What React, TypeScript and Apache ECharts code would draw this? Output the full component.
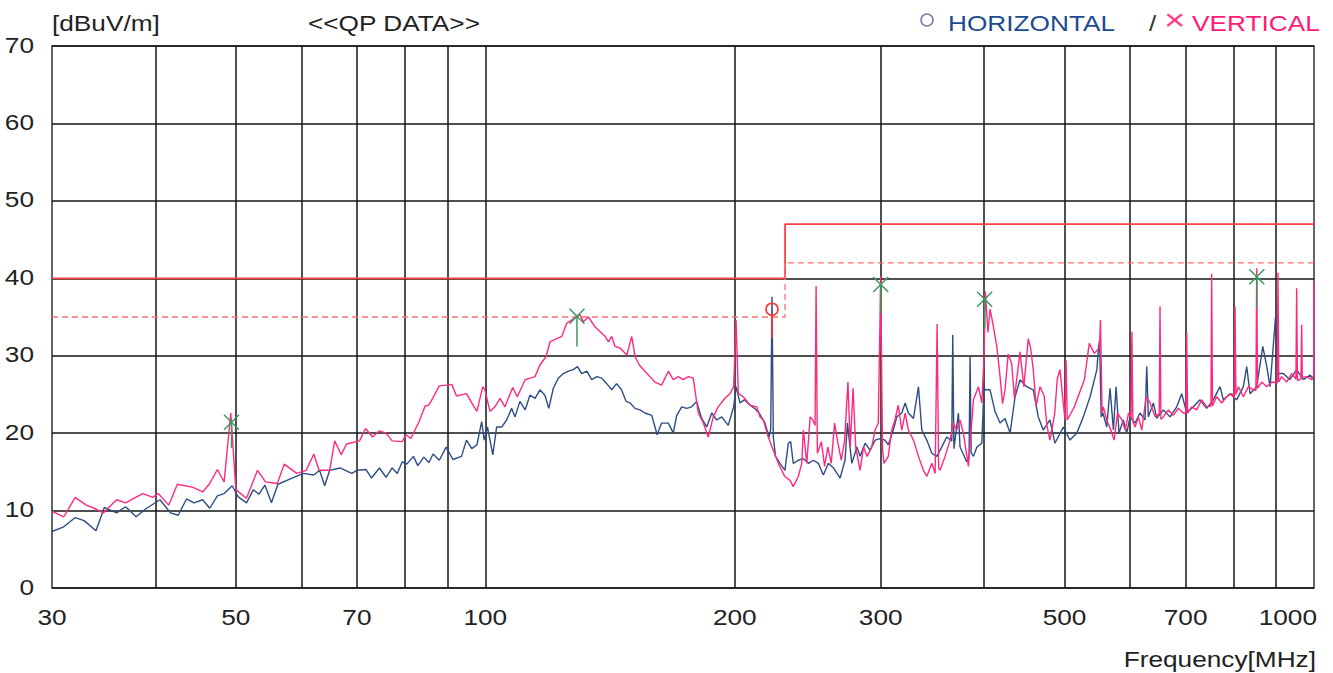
import React, { useEffect, useRef } from "react";
import * as echarts from "echarts";

// [frequency MHz, level dBuV/m]
const HORIZONTAL: number[][] = [
  [30.0,7.3],[31.0,7.9],[32.0,9.1],[32.8,8.7],[33.9,7.4],[34.7,10.4],[35.9,9.7],[36.8,10.5],[37.9,9.2],[38.9,10.2],
  [40.5,11.4],[41.7,9.7],[42.6,9.4],[43.6,11.5],[44.5,11.0],[45.6,11.4],[46.5,10.3],[47.5,11.9],[48.4,12.2],[49.5,13.2],
  [50.3,11.8],[51.5,11.0],[52.5,12.7],[53.3,12.1],[54.2,13.3],[55.2,11.0],[56.2,13.4],[57.9,14.0],[60.3,14.8],[62.1,14.6],
  [63.1,15.2],[64.0,13.2],[64.9,15.2],[66.8,15.5],[69.0,14.8],[70.0,15.2],[71.8,15.3],[72.9,14.2],[74.5,15.5],[75.9,14.3],
  [77.2,15.5],[78.3,14.8],[79.4,16.3],[80.4,16.0],[81.9,17.0],[82.9,15.8],[84.3,16.9],[85.5,16.2],[86.5,17.3],[88.0,16.5],
  [89.7,18.2],[91.4,16.6],[93.6,17.0],[94.9,19.1],[96.3,18.0],[97.7,18.5],[99.0,21.5],[99.7,19.1],[100.6,20.8],[102.1,17.2],
  [103.2,20.8],[104.7,20.8],[106.1,21.7],[107.6,23.2],[108.6,22.1],[110.1,24.1],[111.7,23.0],[113.2,24.9],[114.8,24.5],[116.4,25.6],
  [118.0,24.9],[119.3,23.2],[120.8,25.8],[122.5,27.1],[124.2,27.7],[126.0,28.0],[127.7,28.2],[129.2,28.6],[130.7,27.7],[132.6,28.0],
  [134.4,26.9],[136.3,27.3],[138.2,27.1],[140.1,26.4],[142.1,25.6],[144.0,26.4],[146.0,25.6],[147.9,24.1],[149.5,23.9],[151.6,23.2],
  [153.7,23.0],[155.8,22.6],[158.8,22.3],[161.2,19.8],[163.2,21.3],[166.3,21.3],[168.6,20.0],[170.2,22.3],[172.6,23.4],[175.0,23.2],
  [177.4,23.4],[179.9,24.1],[182.4,21.9],[185.0,20.8],[187.6,22.6],[190.2,21.7],[192.9,22.1],[196.4,21.0],[199.4,23.4],[200.7,26.0],
  [202.9,23.9],[205.4,24.3],[208.7,23.6],[211.3,23.2],[214.0,22.6],[217.5,21.3],[220.0,19.5],[221.0,20.5],[221.8,37.6],[222.6,19.5],
  [224.0,17.0],[226.8,16.1],[229.9,15.2],[232.1,18.7],[233.6,18.9],[235.3,16.1],[238.6,16.5],[242.0,16.7],[245.4,16.1],[248.8,16.5],
  [252.3,16.1],[255.8,14.6],[259.4,16.1],[263.1,15.5],[268.0,14.2],[271.7,16.5],[273.5,21.3],[276.9,16.1],[280.8,18.2],[283.3,17.0],
  [287.3,18.7],[291.3,17.8],[295.4,19.1],[299.4,19.3],[303.6,19.1],[306.4,18.5],[310.7,20.4],[313.7,22.1],[318.1,22.6],[321.1,23.9],
  [324.0,22.6],[328.6,21.9],[333.2,26.0],[336.3,20.4],[341.0,19.1],[345.8,17.4],[350.6,17.0],[355.4,18.2],[360.4,19.5],[365.5,19.0],
  [366.5,32.7],[367.7,18.0],[372.3,22.6],[374.0,18.2],[381.0,16.3],[383.5,17.0],[384.6,29.9],[385.7,17.5],[388.2,17.0],[391.9,18.2],
  [397.3,18.7],[399.8,26.0],[400.9,25.6],[406.5,25.6],[412.2,22.8],[418.0,21.3],[423.8,21.9],[429.8,20.0],[435.8,24.7],[441.8,26.9],
  [450.1,26.0],[458.4,25.6],[464.8,22.1],[471.3,20.4],[480.1,21.7],[486.8,18.7],[498.3,20.8],[507.6,19.1],[517.2,20.0],[526.8,22.1],
  [536.8,24.7],[547.0,28.2],[549.4,31.0],[551.2,32.0],[553.6,22.1],[556.4,22.6],[562.2,20.8],[567.4,25.8],[572.7,20.4],[577.0,26.0],
  [581.7,20.0],[588.7,21.7],[594.3,20.0],[599.8,22.1],[608.2,21.3],[616.7,22.6],[625.3,21.7],[628.3,28.6],[631.1,22.1],[640.0,23.9],
  [646.0,21.9],[657.9,23.0],[670.3,22.1],[682.9,23.4],[692.4,25.1],[702.1,22.6],[715.2,23.4],[728.5,24.3],[742.2,23.2],[756.0,24.3],
  [770.2,26.0],[777.3,24.3],[791.9,25.1],[806.7,24.3],[821.7,26.0],[829.5,28.6],[837.2,25.1],[852.9,26.0],[867.3,31.2],[877.0,28.6],
  [885.1,26.0],[898.6,35.0],[904.8,27.7],[918.2,27.7],[935.4,26.9],[953.0,28.2],[970.8,26.9],[989.0,27.5],[1000,26.9],
];

const VERTICAL: number[][] = [
  [30.0,9.9],[31.0,9.2],[32.0,11.7],[33.0,10.7],[33.9,10.2],[34.6,9.7],[35.9,11.4],[36.8,11.0],[38.6,12.2],[39.7,11.7],
  [40.3,12.2],[41.5,10.7],[42.5,13.4],[44.4,13.0],[45.6,12.4],[46.5,13.5],[47.5,15.3],[48.4,13.7],[49.3,22.6],[50.0,12.7],
  [51.5,11.6],[53.1,15.2],[54.3,13.7],[56.1,13.5],[57.2,16.0],[59.2,14.8],[60.8,15.2],[62.1,17.3],[63.0,15.2],[64.9,15.2],
  [65.8,19.0],[67.0,17.2],[68.0,18.6],[70.5,19.0],[71.7,20.6],[73.1,19.5],[74.5,20.3],[75.9,20.0],[77.2,19.0],[79.4,18.9],
  [80.2,19.8],[81.3,19.3],[83.2,21.5],[84.6,23.5],[85.4,23.6],[86.4,24.5],[88.0,26.1],[89.7,26.2],[91.1,26.3],[92.3,24.8],
  [94.9,25.1],[96.3,23.9],[97.7,22.8],[99.3,26.0],[99.9,25.6],[101.3,22.8],[102.7,23.4],[104.2,24.5],[105.6,23.4],[107.9,25.9],
  [109.3,24.7],[111.7,26.9],[113.2,27.1],[114.8,27.3],[116.4,28.8],[118.4,29.9],[119.7,31.8],[121.9,32.2],[123.7,32.5],[125.4,34.2],
  [127.5,34.7],[130.1,35.3],[131.3,34.4],[133.2,35.0],[135.7,33.7],[137.6,33.1],[139.5,32.5],[140.8,31.8],[142.1,32.5],[143.4,31.2],
  [145.4,31.0],[148.2,30.1],[150.2,32.5],[151.6,29.9],[153.4,28.8],[155.8,28.0],[158.0,27.3],[160.2,26.6],[163.2,26.2],[166.3,28.0],
  [168.6,26.9],[170.9,27.3],[173.3,26.9],[175.8,27.3],[178.2,27.1],[180.7,22.6],[183.3,21.3],[185.8,19.5],[188.4,22.1],[191.0,23.4],
  [194.6,24.5],[197.4,25.1],[199.4,26.0],[200.7,34.6],[202.0,25.1],[204.8,24.7],[208.7,23.6],[212.6,23.4],[214.5,22.1],[216.5,21.7],
  [219.5,19.5],[222.6,17.8],[225.7,16.1],[229.8,14.4],[233.2,13.9],[235.3,13.1],[238.6,14.4],[240.9,16.1],[242.0,20.4],[244.3,16.1],
  [246.6,22.1],[248.4,21.7],[250.0,21.0],[250.7,39.0],[251.6,17.4],[254.4,18.9],[256.7,15.7],[259.0,18.2],[261.5,16.1],[263.9,21.3],
  [266.4,18.7],[268.9,16.5],[271.4,19.1],[273.9,26.6],[275.7,18.2],[277.8,25.8],[279.9,18.2],[283.3,15.2],[286.0,18.2],[288.9,17.0],
  [292.6,18.2],[295.4,20.4],[298.0,21.3],[300.0,40.3],[301.5,18.0],[302.7,16.1],[306.4,17.0],[309.3,20.4],[312.1,21.7],[315.0,23.6],
  [318.1,20.4],[321.1,22.6],[324.0,20.4],[328.6,19.1],[333.2,17.0],[337.8,15.2],[341.0,14.4],[345.8,16.1],[349.0,14.8],[350.9,34.1],
  [352.4,15.5],[353.8,15.2],[358.8,17.0],[363.8,19.1],[367.1,21.3],[370.6,20.4],[374.0,21.7],[377.5,20.0],[382.8,15.7],[388.2,24.3],
  [393.6,26.0],[397.3,23.9],[399.8,30.0],[401.2,38.3],[404.2,33.0],[406.5,36.0],[409.6,34.2],[414.2,31.2],[418.0,27.3],[420.9,23.8],
  [423.8,25.6],[427.5,30.2],[431.7,29.0],[435.0,24.5],[441.8,30.5],[446.5,26.0],[452.1,32.2],[455.0,31.0],[458.4,28.2],[462.0,23.5],
  [467.1,26.0],[472.5,24.8],[476.0,21.0],[480.1,19.1],[486.5,22.5],[490.0,27.0],[493.8,28.2],[497.0,25.0],[500.7,21.7],[502.1,29.4],
  [503.8,21.7],[513.8,23.4],[528.3,26.9],[535.6,31.6],[543.2,30.3],[550.9,31.0],[552.5,34.6],[555.0,22.5],[557.0,23.4],[562.2,21.7],
  [568.6,20.4],[573.9,19.1],[579.2,22.6],[586.4,21.7],[591.9,20.4],[597.3,22.6],[601.5,22.0],[602.9,33.1],[604.5,21.5],[608.2,20.8],
  [613.9,22.1],[619.7,20.4],[627.2,24.7],[634.2,23.9],[643.1,22.1],[650.5,22.5],[651.9,36.4],[653.5,21.8],[657.9,22.1],[667.1,23.0],
  [676.4,22.3],[685.9,23.2],[695.5,22.6],[700.5,22.5],[702.1,33.0],[703.8,22.6],[711.9,23.4],[721.9,23.0],[732.0,24.3],[742.2,23.4],
  [751.0,23.5],[752.5,40.6],[754.2,23.5],[763.1,24.7],[773.8,23.9],[784.6,24.7],[795.6,25.1],[801.3,24.5],[803.0,36.4],[804.8,25.0],
  [810.5,26.0],[821.8,24.7],[833.4,26.0],[845.1,25.6],[851.0,25.5],[852.9,41.3],[854.8,25.8],[864.8,26.6],[877.0,26.0],[889.3,26.6],
  [903.0,26.5],[904.8,40.7],[906.7,26.6],[913.9,27.3],[926.8,26.6],[939.8,27.7],[951.0,27.0],[953.0,38.7],[955.0,26.8],[964.5,27.0],
  [966.3,34.0],[968.0,27.2],[979.9,27.3],[993.7,26.9],[999.0,27.5],[1000,39.6],
];

const LIMIT_QP: number[][] = [[30, 40], [230, 40], [230, 47], [1000, 47]];
const LIMIT_MARGIN: number[][] = [[30, 35], [230, 35], [230, 42], [1000, 42]];

// [frequency, QP level, peak-to-QP line end]
const V_QP_POINTS: number[][] = [
  [49.4, 21.4, 18.1], [129.0, 35.1, 31.2], [300.0, 39.2, 35.5], [400.5, 37.3, 33.5], [853.0, 40.2, 36.3],
];
const H_QP_POINTS: number[][] = [[221.8, 36.0, 32.3]];

const GRID_FREQS = [40, 50, 60, 70, 80, 90, 100, 200, 300, 400, 500, 600, 700, 800, 900];
const X_TICKS = [30, 50, 70, 100, 200, 300, 500, 700, 1000];
const Y_TICKS = [0, 10, 20, 30, 40, 50, 60, 70];

const FONT = '"Liberation Sans", Arial, sans-serif';
const SX = 1.22;
const BLUE = "#2c4e85";
const PINK = "#ff2a7f";

export default function App() {
  const ref = useRef<HTMLDivElement>(null);

  useEffect(() => {
    document.body.style.margin = "0";
    const chart = echarts.init(ref.current!, null, { renderer: "svg" });

    const txt = (text: string, x: number, y: number, fill: string, align = "left", size = 21.5) => ({
      type: "text",
      x,
      y,
      scaleX: SX,
      silent: true,
      style: { text, fontSize: size, fontFamily: FONT, fill, align, verticalAlign: "middle" },
    });

    chart.setOption({
      animation: false,
      backgroundColor: "#ffffff",
      grid: {
        left: 52, top: 46, width: 1262, height: 542,
        show: true, borderColor: "#333", borderWidth: 1.5, backgroundColor: "transparent",
      },
      xAxis: {
        type: "log", logBase: 10, min: 30, max: 1000,
        axisLine: { show: false }, axisTick: { show: false }, axisLabel: { show: false },
        splitLine: { show: false }, minorSplitLine: { show: false },
      },
      yAxis: {
        type: "value", min: 0, max: 70, interval: 10,
        axisLine: { show: false }, axisTick: { show: false }, axisLabel: { show: false },
        splitLine: { show: true, lineStyle: { color: "#151515", width: 1.5 } },
      },
      series: [
        {
          type: "line", name: "limit", data: LIMIT_QP, showSymbol: false, symbol: "none", z: 2,
          lineStyle: { color: "#ff4040", width: 1.8 }, silent: true,
          markLine: {
            silent: true, symbol: ["none", "none"], label: { show: false }, z: 1,
            lineStyle: { color: "#151515", width: 1.5, type: "solid" },
            emphasis: { disabled: true },
            data: GRID_FREQS.map((f) => ({ xAxis: f })),
          },
        },
        {
          type: "line", name: "margin", data: LIMIT_MARGIN, showSymbol: false, symbol: "none", z: 2,
          lineStyle: { color: "#ff7070", width: 1.3, type: [6, 4] }, silent: true,
        },
        {
          type: "line", name: "HORIZONTAL", data: HORIZONTAL, showSymbol: false, symbol: "none", z: 3,
          lineStyle: { color: BLUE, width: 1.4 }, silent: true,
        },
        {
          type: "line", name: "VERTICAL", data: VERTICAL, showSymbol: false, symbol: "none", z: 4,
          lineStyle: { color: PINK, width: 1.4 }, silent: true,
        },
        {
          type: "custom", name: "H QP", data: H_QP_POINTS, z: 6, silent: true,
          encode: { x: 0, y: 1 },
          renderItem: (_p: any, api: any) => {
            const f = api.value(0), qp = api.value(1), lo = api.value(2);
            const a = api.coord([f, qp]);
            const b = api.coord([f, lo]);
            const st = { stroke: "#ff3838", lineWidth: 1.6, fill: "none" };
            return {
              type: "group",
              children: [
                { type: "line", shape: { x1: a[0], y1: a[1] + 6, x2: b[0], y2: b[1] }, style: st },
                { type: "circle", shape: { cx: a[0], cy: a[1], r: 6 }, style: st },
              ],
            };
          },
        },
        {
          type: "custom", name: "V QP", data: V_QP_POINTS, z: 6, silent: true,
          encode: { x: 0, y: 1 },
          renderItem: (_p: any, api: any) => {
            const f = api.value(0), qp = api.value(1), lo = api.value(2);
            const a = api.coord([f, qp]);
            const b = api.coord([f, lo]);
            const s = 7.5;
            const st = { stroke: "#3c9a5f", lineWidth: 1.5 };
            return {
              type: "group",
              children: [
                { type: "line", shape: { x1: a[0], y1: a[1], x2: b[0], y2: b[1] }, style: st },
                { type: "line", shape: { x1: a[0] - s, y1: a[1] - s, x2: a[0] + s, y2: a[1] + s }, style: st },
                { type: "line", shape: { x1: a[0] - s, y1: a[1] + s, x2: a[0] + s, y2: a[1] - s }, style: st },
              ],
            };
          },
        },
      ],
    });

    const labels: any[] = [];
    X_TICKS.forEach((f, i) => {
      const p = chart.convertToPixel({ gridIndex: 0 }, [f, 0]) as number[];
      const last = i === X_TICKS.length - 1;
      labels.push(txt(String(f), last ? p[0] + 3 : p[0], 617, "#222", last ? "right" : "center"));
    });
    Y_TICKS.forEach((v) => {
      const p = chart.convertToPixel({ gridIndex: 0 }, [30, v]) as number[];
      labels.push(txt(String(v), 34, p[1] - 1, "#222", "right"));
    });

    chart.setOption({
      graphic: [
        txt("[dBuV/m]", 52, 23, "#222"),
        txt("<<QP DATA>>", 308, 23, "#222"),
        {
          type: "circle", silent: true, shape: { cx: 927, cy: 20, r: 6 },
          style: { fill: "none", stroke: "#6b7fa6", lineWidth: 1.5 },
        },
        txt("HORIZONTAL", 948, 23, "#1d4b8f"),
        txt("/", 1149, 23, "#333"),
        txt("×", 1164, 20, "#ff3d8b", "left", 30),
        txt("VERTICAL", 1192, 23, "#ff1a75"),
        txt("Frequency[MHz]", 1316, 659, "#222", "right"),
        ...labels,
      ],
    });

    return () => chart.dispose();
  }, []);

  return <div ref={ref} style={{ width: 1333, height: 673 }} />;
}
